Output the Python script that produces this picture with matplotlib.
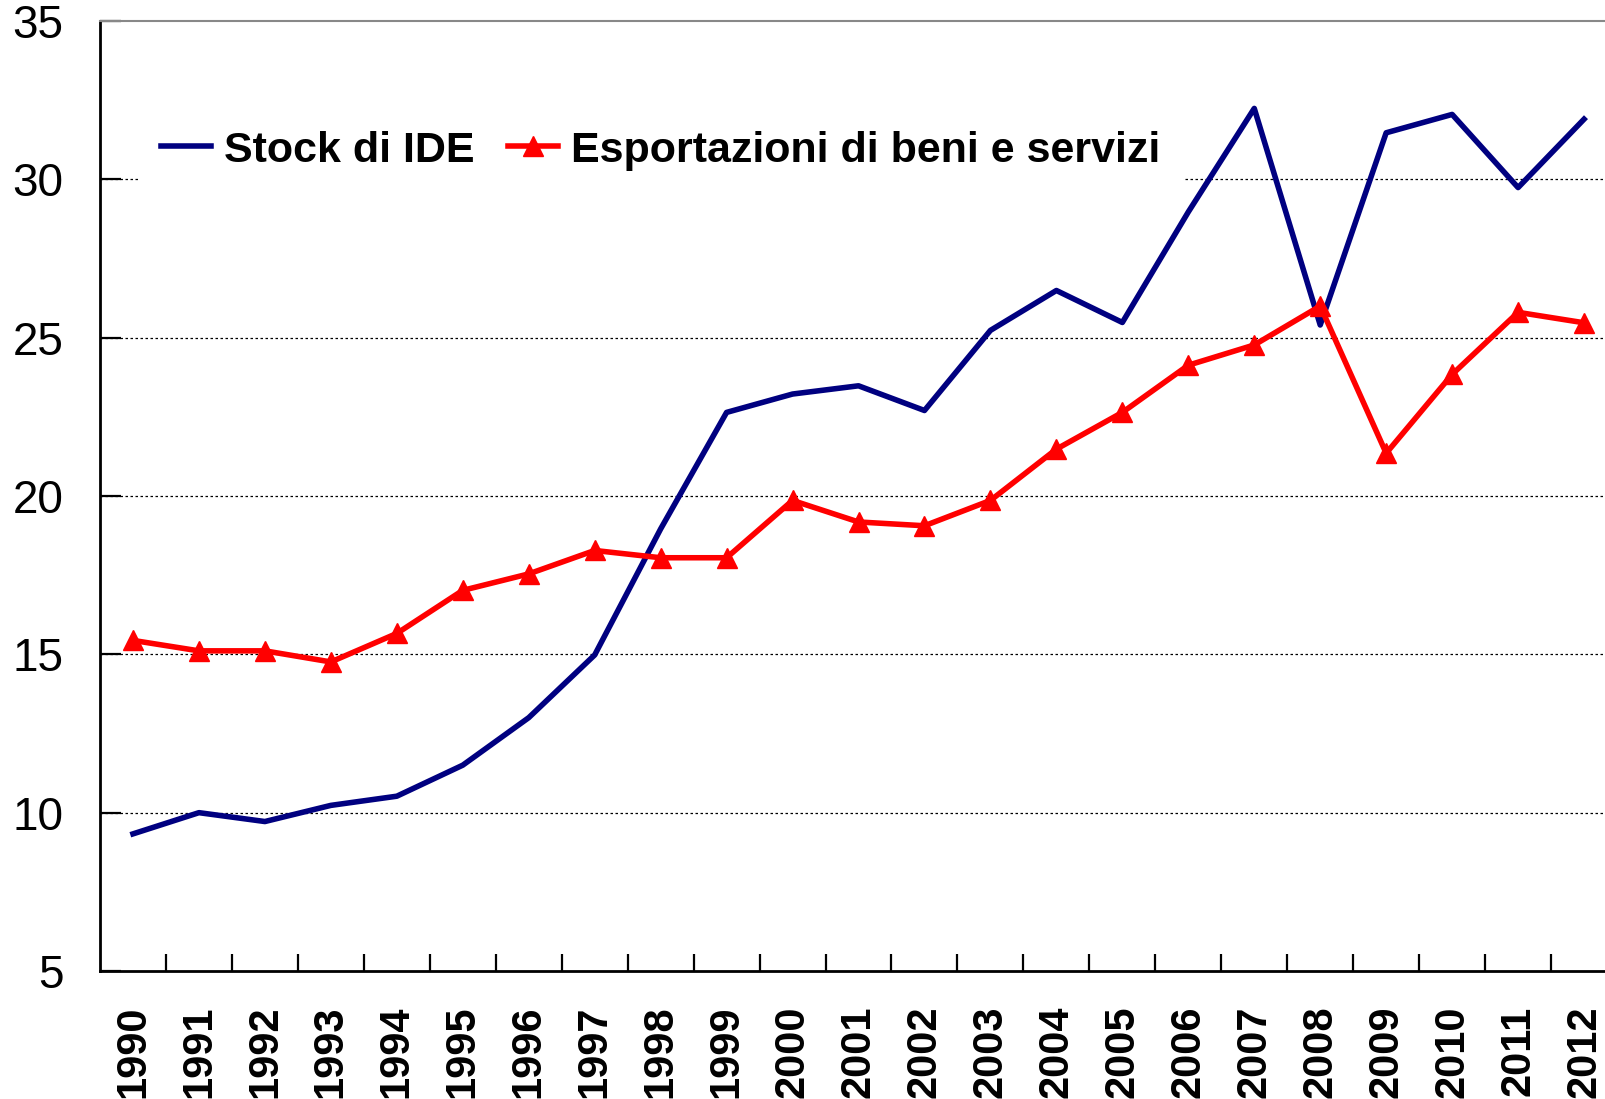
import numpy as np
import matplotlib.pyplot as plt
from matplotlib.ticker import MultipleLocator, FixedLocator

plt.rcParams['font.family'] = ['Liberation Sans', 'DejaVu Sans']

# dati
anni = list(range(1990, 2013))
stock_ide = [9.33, 10.0, 9.72, 10.23, 10.52, 11.5, 13.0, 14.98, 18.96, 22.64,
             23.22, 23.48, 22.7, 25.23, 26.49, 25.48, 28.97, 32.24, 25.4, 31.47,
             32.05, 29.74, 31.9]
esportazioni = [15.44, 15.11, 15.11, 14.76, 15.66, 17.02, 17.54, 18.28, 18.05, 18.05,
                19.86, 19.18, 19.06, 19.86, 21.48, 22.64, 24.13, 24.77, 26.0, 21.35,
                23.84, 25.8, 25.47]
etichette = ['Stock di IDE', 'Esportazioni di beni e servizi']

fig = plt.figure(figsize=(16.05, 10.99), dpi=100)
ax = fig.add_axes([100 / 1605, 128 / 1099, 1 - 100 / 1605, 950 / 1099])

x = np.arange(len(anni))
ax.plot(x, stock_ide, color='#000080', lw=4, label=etichette[0], zorder=3)
ax.plot(x, esportazioni, color='#ff0000', lw=4, marker='^', markersize=15,
        label=etichette[1], zorder=4)

ax.set_ylim(5, 35)
ax.set_xlim(-0.5, 22.5 - 12 / 65.8)
ax.yaxis.set_major_locator(MultipleLocator(5))
for v in [10, 15, 20, 25, 30]:
    ax.axhline(v, color='black', lw=0.9, ls=(0, (2, 2)), zorder=1)

ax.set_xticks(x)
ax.set_xticklabels([str(a) for a in anni], rotation=90, fontsize=30,
                   fontweight='bold')
ax.xaxis.set_minor_locator(FixedLocator(np.arange(0.5, 22, 1)))
ax.tick_params(axis='x', which='major', length=0, pad=25)
ax.tick_params(axis='x', which='minor', direction='in', length=12, width=1.6)
ax.tick_params(axis='y', direction='in', length=15, width=1.6, labelsize=33, pad=26.5)

ax.spines['left'].set_linewidth(2)
ax.spines['bottom'].set_linewidth(2)
ax.spines['top'].set_color('#888888')
ax.spines['top'].set_linewidth(1.5)
ax.spines['right'].set_visible(False)

leg = ax.legend(loc='upper left', bbox_to_anchor=(0.012, 0.93), ncol=2,
                frameon=True, fancybox=False, edgecolor='white', framealpha=1,
                prop={'size': 31, 'weight': 'bold'}, handlelength=1.15,
                handletextpad=0.3, columnspacing=0.8, borderpad=0.5)
leg.set_zorder(2)

fig.savefig('out.png', dpi=100)
